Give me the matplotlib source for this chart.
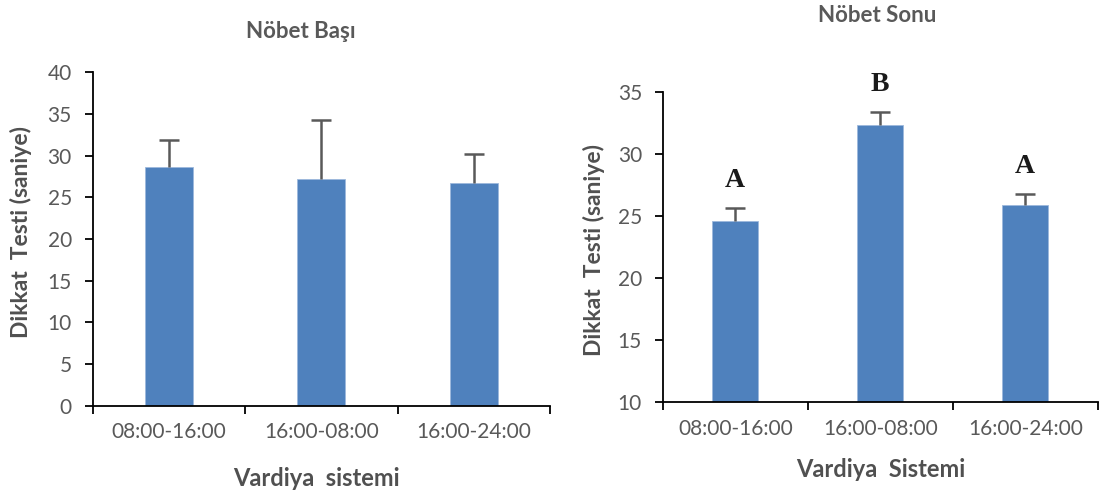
import matplotlib
matplotlib.use("Agg")
import matplotlib.pyplot as plt
import numpy as np

plt.rcParams['font.family'] = ['Lato', 'DejaVu Sans']

categories = ["08:00-16:00", "16:00-08:00", "16:00-24:00"]
basi_values = [28.6, 27.16, 26.68]
basi_errors = [3.3, 7.1, 3.55]
sonu_values = [24.6, 32.34, 25.89]
sonu_errors = [1.05, 1.07, 0.88]
sonu_letters = ["A", "B", "A"]

title_left = "Nöbet Başı"
title_right = "Nöbet Sonu"
ylabel = "Dikkat  Testi (saniye)"
xlabel_left = "Vardiya  sistemi"
xlabel_right = "Vardiya  Sistemi"

BAR = "#4F81BD"
GRAY = "#595959"
TXT = "#595959"

fig = plt.figure(figsize=(11, 4.93), dpi=100)
axL = fig.add_axes([0.0843, 0.1771, 0.4157, 0.6763])
axR = fig.add_axes([0.6025, 0.184, 0.3955, 0.6288])

x = np.arange(len(categories))


def style(ax, ylim, yticks):
    ax.set_xlim(-0.5, len(categories) - 0.5)
    ax.set_ylim(*ylim)
    ax.set_yticks(yticks)
    ax.set_yticklabels([str(t) for t in yticks])
    ax.set_xticks(np.arange(len(categories) + 1) - 0.5)
    ax.set_xticklabels([])
    ax.set_xticks(x, labels=categories, minor=True)
    for s in ("top", "right"):
        ax.spines[s].set_visible(False)
    for s in ("left", "bottom"):
        ax.spines[s].set_color("black")
        ax.spines[s].set_linewidth(1.3)
    ax.tick_params(axis='y', which='major', direction='out', length=6, width=1.3,
                   color='black', labelsize=15, labelcolor=TXT, pad=9)
    ax.tick_params(axis='x', which='major', direction='out', length=6, width=1.3,
                   color='black')
    ax.tick_params(axis='x', which='minor', length=0, labelsize=15,
                   labelcolor=TXT, pad=12)


for ax, vals, errs in ((axL, basi_values, basi_errors), (axR, sonu_values, sonu_errors)):
    vals = np.asarray(vals)
    errs = np.asarray(errs)
    ax.bar(x, vals, width=0.315, color=BAR, edgecolor="#9DB9DC", linewidth=0.6, zorder=2)
    ax.vlines(x, vals, vals + errs, colors=GRAY, linewidth=1.8, zorder=3)
    ax.plot(x, vals + errs, linestyle='none', marker='_', markersize=14,
            markeredgewidth=1.8, color=GRAY, zorder=3)

style(axL, (0, 40), list(range(0, 41, 5)))
style(axR, (10, 35), list(range(10, 36, 5)))

for xi, v, e, lab in zip(x, sonu_values, sonu_errors, sonu_letters):
    axR.annotate(lab, xy=(xi, v + e), xytext=(0, 11), textcoords='offset points',
                 ha='center', va='bottom', fontsize=20, fontweight='bold',
                 fontfamily='Liberation Serif', color='#1a1a1a', annotation_clip=False)

for ax, xl in ((axL, xlabel_left), (axR, xlabel_right)):
    ax.set_ylabel(ylabel, fontsize=16.5, fontweight='bold', color='#505050')
    ax.set_xlabel(xl, fontsize=17, fontweight='bold', color='#505050')

axL.yaxis.set_label_coords(-0.157, 0.52)
axR.yaxis.set_label_coords(-0.158, 0.49)
axL.xaxis.set_label_coords(0.49, -0.217)
axR.xaxis.set_label_coords(0.5, -0.218)
for ax in (axL, axR):
    ax.xaxis.label.set_verticalalignment('center')
    ax.yaxis.label.set_verticalalignment('center')

fig.text(301 / 1100, 1 - 32 / 493, title_left, ha='center', va='center',
         fontsize=16, fontweight='bold', color=TXT)
fig.text(877 / 1100, 1 - 15 / 493, title_right, ha='center', va='center',
         fontsize=16, fontweight='bold', color=TXT)

fig.savefig("out.png", dpi=100)
